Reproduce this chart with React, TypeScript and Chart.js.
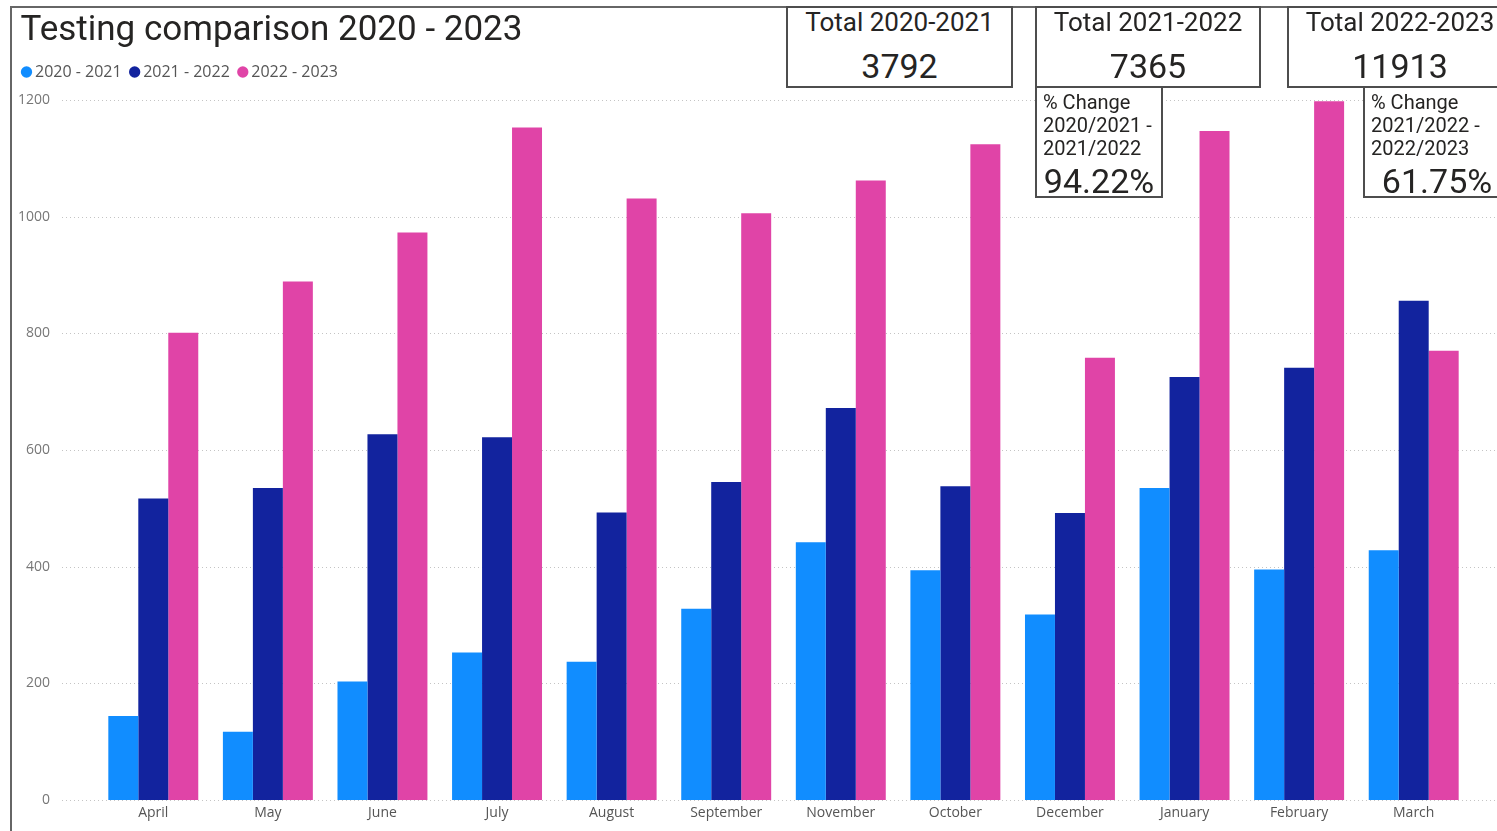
import React, { useEffect, useRef } from "react";
import { Chart, registerables } from "chart.js";

Chart.register(...registerables);

const months = ["April", "May", "June", "July", "August", "September", "November", "October", "December", "January", "February", "March"];
const series2020 = [144, 117, 203, 253, 237, 328, 442, 394, 318, 535, 395, 428];
const series2021 = [517, 535, 627, 622, 493, 545, 672, 538, 492, 725, 741, 856];
const series2022 = [801, 889, 973, 1153, 1031, 1006, 1062, 1124, 758, 1147, 1198, 770];
const seriesLabels = ["2020 - 2021", "2021 - 2022", "2022 - 2023"];
const seriesColors = ["#118DFF", "#12239E", "#E044A7"];
const yMax = 1200;
const yStep = 200;

const chartTitle = "Testing comparison 2020 - 2023";
const totalLabels = ["Total 2020-2021", "Total 2021-2022", "Total 2022-2023"];
const totals = [3792, 7365, 11913];
const changeLabels = [
  ["% Change", "2020/2021 -", "2021/2022"],
  ["% Change", "2021/2022 -", "2022/2023"],
];

const pct = (a: number, b: number) => (((b - a) / a) * 100).toFixed(2) + "%";

const TEXT = "#252423";
const BORDER = "2px solid #4d4d4d";

const dottedGrid = {
  id: "dottedGrid",
  beforeDatasetsDraw(chart: any) {
    const { ctx } = chart;
    const y = chart.scales.y;
    ctx.save();
    ctx.strokeStyle = "#c4c4c4";
    ctx.lineWidth = 1;
    ctx.setLineDash([1, 3]);
    y.ticks.forEach((t: any) => {
      const py = Math.round(y.getPixelForValue(t.value)) + 0.5;
      ctx.beginPath();
      ctx.moveTo(62, py);
      ctx.lineTo(chart.width, py);
      ctx.stroke();
    });
    ctx.restore();
  },
};

const titleShift = {
  id: "titleShift",
  afterLayout(chart: any) {
    if (chart.titleBlock) chart.titleBlock.left += 7;
  },
};

function TotalBox(props: { left: number; width: number; label: string; value: string }) {
  const top = 6;
  return (
    <div
      style={{
        position: "absolute",
        left: props.left,
        top,
        width: props.width,
        height: 82,
        boxSizing: "border-box",
        border: BORDER,
        background: "#fff",
        fontFamily: "Roboto",
        color: TEXT,
      }}
    >
      <div style={{ position: "absolute", left: 0, right: 0, top: 22 - top - 2 - 15, lineHeight: "30px", fontSize: 26, textAlign: "center", whiteSpace: "nowrap" }}>
        {props.label}
      </div>
      <div style={{ position: "absolute", left: 0, right: 0, top: 66 - top - 2 - 20, lineHeight: "40px", fontSize: 34, textAlign: "center" }}>
        {props.value}
      </div>
    </div>
  );
}

function ChangeBox(props: { left: number; width: number; lines: string[]; value: string }) {
  const top = 86;
  return (
    <div
      style={{
        position: "absolute",
        left: props.left,
        top,
        width: props.width,
        height: 112,
        boxSizing: "border-box",
        border: BORDER,
        background: "#fff",
        fontFamily: "Roboto",
        color: TEXT,
      }}
    >
      {props.lines.map((l, i) => (
        <div
          key={i}
          style={{ position: "absolute", left: 6, top: 102 + i * 23 - top - 2 - 11.5, lineHeight: "23px", fontSize: 20, whiteSpace: "nowrap" }}
        >
          {l}
        </div>
      ))}
      <div style={{ position: "absolute", left: 0, right: 0, top: 181 - top - 2 - 20, lineHeight: "40px", fontSize: 34, textAlign: "center" }}>
        {props.value}
      </div>
    </div>
  );
}

export default function App() {
  const ref = useRef<HTMLCanvasElement | null>(null);

  useEffect(() => {
    if (!ref.current) return;
    const allSeries = [series2020, series2021, series2022];
    const chart = new Chart(ref.current, {
      type: "bar",
      data: {
        labels: months,
        datasets: allSeries.map((d, i) => ({
          label: seriesLabels[i],
          data: d,
          backgroundColor: seriesColors[i],
          borderWidth: 0,
          barPercentage: 1,
          categoryPercentage: 0.785,
          xAxisID: "x",
        })),
      },
      options: {
        responsive: false,
        animation: false,
        events: [],
        layout: { padding: { left: 13.5, right: 26, top: 12, bottom: 9 } },
        plugins: {
          tooltip: { enabled: false },
          title: {
            display: true,
            text: chartTitle,
            align: "start",
            color: TEXT,
            font: { family: "Roboto", size: 35, weight: "normal", lineHeight: 1.1 },
            padding: { top: 0, bottom: 1 },
          },
          legend: {
            display: true,
            position: "top",
            align: "start",
            labels: {
              usePointStyle: true,
              pointStyle: "circle",
              boxWidth: 1,
              boxHeight: 8,
              padding: 12.5,
              color: "#555",
              font: { family: "Open Sans", size: 16 },
            },
          },
        },
        scales: {
          x: {
            type: "category",
            position: "bottom",
            grid: { display: false, drawTicks: false },
            border: { display: false },
            ticks: {
              color: "#555",
              font: { family: "Open Sans", size: 14 },
              padding: 5,
              maxRotation: 0,
              autoSkip: false,
            },
            afterFit: (s: any) => {
              s.height = 22;
            },
          },
          x2: {
            type: "category",
            position: "top",
            display: true,
            grid: { display: false, drawTicks: false },
            border: { display: false },
            ticks: { display: false },
            afterFit: (s: any) => {
              s.height = 10;
            },
          },
          y: {
            min: 0,
            max: yMax,
            grid: { display: false, drawTicks: false },
            border: { display: false },
            ticks: {
              stepSize: yStep,
              color: "#777",
              font: { family: "Open Sans", size: 14 },
              padding: 46,
              callback: (v: any) => String(v),
            },
            afterFit: (s: any) => {
              s.width = 82.5;
              s.paddingTop = 8;
              s.paddingBottom = 8;
            },
          },
        },
      },
      plugins: [dottedGrid, titleShift],
    } as any);
    return () => chart.destroy();
  }, []);

  return (
    <div style={{ position: "absolute", left: 0, top: 0, width: 1497, height: 831, overflow: "hidden", background: "#fff" }}>
      <canvas ref={ref} width={1497} height={831} style={{ position: "absolute", left: 0, top: 0, width: 1497, height: 831 }} />
      <div
        style={{
          position: "absolute",
          left: 10,
          top: 6,
          width: 1600,
          height: 900,
          borderLeft: "2px solid #666",
          borderTop: "2px solid #666",
          pointerEvents: "none",
        }}
      />
      <TotalBox left={786} width={227} label={totalLabels[0]} value={String(totals[0])} />
      <TotalBox left={1035} width={226} label={totalLabels[1]} value={String(totals[1])} />
      <TotalBox left={1287} width={226} label={totalLabels[2]} value={String(totals[2])} />
      <ChangeBox left={1035} width={128} lines={changeLabels[0]} value={pct(totals[0], totals[1])} />
      <ChangeBox left={1363} width={148} lines={changeLabels[1]} value={pct(totals[1], totals[2])} />
    </div>
  );
}
